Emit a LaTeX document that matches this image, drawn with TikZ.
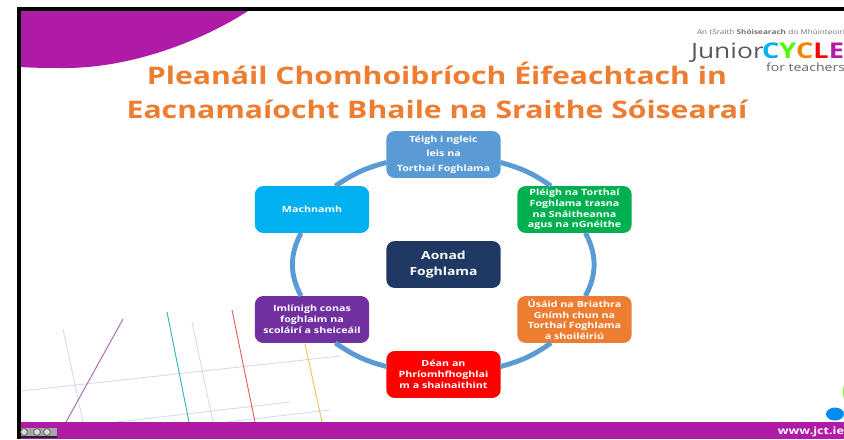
\documentclass[tikz,border=0pt]{standalone}
\usepackage{fontspec}
\setmainfont{Open Sans}
\newfontfamily\widefont[FakeStretch=1.25]{Open Sans}
\definecolor{jctpurple}{HTML}{AF1AA6}
\definecolor{ringblue}{HTML}{5B9BD5}
\definecolor{titleorange}{HTML}{ED7D31}
\definecolor{stepgreen}{HTML}{00B050}
\definecolor{stepcyan}{HTML}{00B0F0}
\definecolor{stepviolet}{HTML}{7030A0}
\definecolor{stepnavy}{HTML}{1F3864}
\definecolor{gridgrey}{HTML}{D5DDEB}
\definecolor{linepurple}{HTML}{A76BA8}
\definecolor{lineteal}{HTML}{30B4C4}
\definecolor{linered}{HTML}{E4605E}
\definecolor{lineyellow}{HTML}{EDC45A}
\tikzset{
    every node/.style={inner sep=0pt, outer sep=0pt},
    stepbox/.style={rectangle, rounded corners=7pt, minimum width=97.5pt,
                    minimum height=40pt, text width=96pt, align=center,
                    text=white, font=\widefont\fontsize{7.3}{9.2}\selectfont\bfseries},
    ring/.style={ringblue, line width=4.2pt},
    titletext/.style={anchor=base, text=titleorange, font=\widefont\fontsize{20.6}{24}\selectfont\bfseries},
}

\begin{document}
\begin{tikzpicture}[x=0.03cm, y=-0.03cm]
    \clip (0,0) rectangle (844,439);
    \fill[white] (0,0) rectangle (844,439);
    % corner shape and bottom bar
    \fill[jctpurple] (21,11) -- (248,11) .. controls (200,42) and (130,68) .. (65,68)
        .. controls (50,68) and (35,68) .. (21,67) -- cycle;
    % background lines
    \foreach \ax/\ay/\bx/\by/\col in {63/329/83/422/gridgrey, 192/322/213/422/gridgrey,
        21/391/340/356/gridgrey, 117/422/290/402/gridgrey, 227/422/330/410/gridgrey,
        123/319/66/422/linepurple, 167/312/189/422/lineteal,
        232/310/255/422/linered, 305/344/322/422/lineyellow}
    {
        \draw[\col, line width=0.8pt] (\ax,\ay) -- (\bx,\by);
    }
    \fill[jctpurple] (21,422) rectangle (844,439);
    \fill[black] (17,7) rectangle (844,11);
    \fill[black] (17,7) rectangle (21,439);
    \fill[stepcyan!80!blue] (835,414) ellipse (9 and 6.5);
    \fill[green!60!yellow] (845,392) ellipse (2 and 8);
    % licence badge
    \fill[black!35] (21,428) rectangle (57,436);
    \fill[black!85] (21,436) rectangle (57,438);
    \foreach \x in {24,37,47}
    {
        \draw[black!65, fill=black!15, line width=0.6pt] (\x,432) circle (3.4);
    }
    % title
    \node[titletext] (titleone) at (437,84) {Pleanáil Chomhoibríoch Éifeachtach in};
    \node[titletext] (titletwo) at (437,118) {Eacnamaíocht Bhaile na Sraithe Sóisearaí};
    % logo
    \node[anchor=base west, text=black!55, font=\widefont\fontsize{5.6}{7}\selectfont] (logotop) at (697,34)
        {An tSraith \textbf{Shóisearach} do Mhúinteoirí};
    \node[anchor=base west, text=black!65, font=\widefont\fontsize{18}{20}\selectfont] (junior) at (691,58) {Junior};
    \node[anchor=base west, font=\widefont\fontsize{18.5}{20}\selectfont\bfseries] (cycle) at (762,58)
        {\textcolor{stepcyan}{C}\textcolor{green!70!yellow}{Y}\textcolor{orange}{C}\textcolor{red}{L}\textcolor{jctpurple}{E}};
    \node[anchor=base west, text=black!60, font=\widefont\fontsize{9.6}{10}\selectfont] (forteachers) at (766,71) {for teachers};
    % cycle of steps
    \node[stepbox, fill=ringblue] (teigh) at (443.5,154.5) {Téigh i ngleic\\[3pt] leis na\\[3pt] Torthaí Foghlama};
    \node[stepbox, fill=stepgreen] (pleigh) at (574.5,209.5) {Pléigh na Torthaí\\ Foghlama trasna\\ na Snáitheanna\\ agus na nGnéithe};
    \node[stepbox, fill=titleorange] (usaid) at (574.5,319.5) {Úsáid na Briathra\\ Gnímh chun na\\ Torthaí Foghlama\\ a shoiléiriú};
    \node[stepbox, fill=red] (dean) at (443.5,374.5) {Déan an\\ Phríomhfhoghlai\\ m a shainaithint};
    \node[stepbox, fill=stepviolet] (imlinigh) at (312,319.5) {Imlínigh conas\\ foghlaim na\\ scoláirí a sheiceáil};
    \node[stepbox, fill=stepcyan] (machnamh) at (312,209.5) {Machnamh};
    \node[stepbox, fill=stepnavy, font=\widefont\fontsize{9.5}{13}\selectfont\bfseries] (aonad) at (443.5,264.5) {Aonad\\ Foghlama};
    \draw[ring] (teigh.-8) to[bend left=10] (pleigh.135);
    \draw[ring] (pleigh.-65) to[bend left=28] (usaid.65);
    \draw[ring] (usaid.-135) to[bend left=10] (dean.8);
    \draw[ring] (dean.172) to[bend left=10] (imlinigh.-45);
    \draw[ring] (imlinigh.115) to[bend left=28] (machnamh.-115);
    \draw[ring] (machnamh.45) to[bend left=10] (teigh.188);
    % footer
    \node[anchor=base east, text=white, font=\widefont\fontsize{8.6}{10}\selectfont\bfseries] (website) at (844,434) {www.jct.ie};
\end{tikzpicture}
\end{document}
